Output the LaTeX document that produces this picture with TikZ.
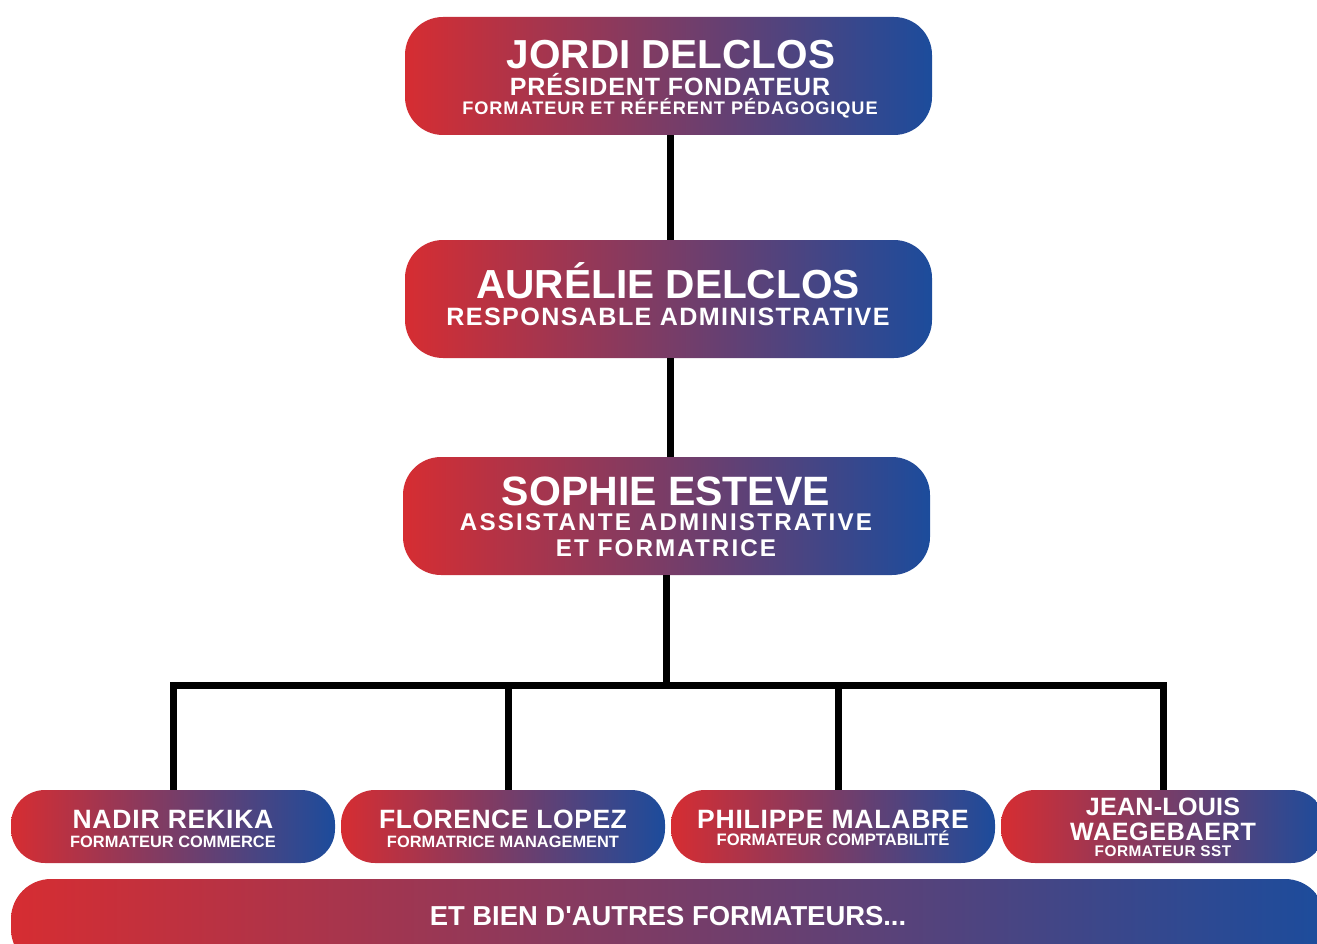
\documentclass[tikz,border=0pt]{standalone}
\usepackage{fontspec}
\setmainfont{Liberation Sans}
\usepackage{tikz}
\usetikzlibrary{positioning}
\definecolor{orgred}{RGB}{214,45,50}
\definecolor{orgblue}{RGB}{28,76,156}

% font size + letter spacing for one line of text
\newcommand{\linefont}[2]{\bfseries\fontsize{#1}{#1}\selectfont\addfontfeature{LetterSpace=#2}}

\tikzset{
  bigbox/.style={rounded corners=38pt, left color=orgred, right color=orgblue,
    minimum width=527pt, minimum height=118pt, inner sep=0pt},
  smallbox/.style={rounded corners=34pt, left color=orgred, right color=orgblue,
    minimum width=324pt, minimum height=73pt, inner sep=0pt},
  txt/.style={anchor=base, text=white, inner sep=0pt, font=\bfseries},
  link/.style={line width=7pt, black}
}

\begin{document}
\begin{tikzpicture}[x=1pt, y=-1pt]
    \useasboundingbox (0,0) rectangle (1317,944);
    \clip (0,0) rectangle (1317,944);

    % main boxes
    \node[bigbox] (jordi) at (668.5,76) {};
    \node[bigbox] (aurelie) at (668.5,299) {};
    \node[bigbox] (sophie) at (666.5,516) {};

    % trainers
    \node[smallbox] (nadir) at (173,826.5) {};
    \node[smallbox] (florence) at (503,826.5) {};
    \node[smallbox] (philippe) at (833,826.5) {};
    \node[smallbox] (jeanlouis) at (1163,826.5) {};

    % bottom bar
    \node[smallbox, rounded corners=40pt, minimum width=1314pt, minimum height=90pt] (others) at (668,924) {};

    % connectors
    \coordinate (fork) at (668,685);
    \draw[link] ([xshift=1.5pt]jordi.south) -- ([xshift=1.5pt]jordi.south |- aurelie.north);
    \draw[link] ([xshift=1.5pt]aurelie.south) -- ([xshift=1.5pt]aurelie.south |- sophie.north);
    \draw[link] (sophie.south) -- (sophie.south |- fork);
    \draw[link, line join=miter] (nadir.north) |- (jeanlouis.north |- fork) -- (jeanlouis.north);
    \draw[link] ([xshift=5pt]florence.north) -- ([xshift=5pt]florence.north |- fork);
    \draw[link] ([xshift=5pt]philippe.north) -- ([xshift=5pt]philippe.north |- fork);

    % texts
    \node[txt, font=\linefont{40.5}{0}] (t1a) at (671,68.5) {JORDI DELCLOS};
    \node[txt, font=\linefont{25}{3.6}] (t1b) at (670,95.5) {PRÉSIDENT FONDATEUR};
    \node[txt, font=\linefont{18.2}{5}] (t1c) at (670,115) {FORMATEUR ET RÉFÉRENT PÉDAGOGIQUE};

    \node[txt, font=\linefont{40.6}{0}] (t2a) at (668,298) {AURÉLIE DELCLOS};
    \node[txt, font=\linefont{25.1}{5.6}] (t2b) at (668,325) {RESPONSABLE ADMINISTRATIVE};

    \node[txt, font=\linefont{41}{0}] (t3a) at (666,505) {SOPHIE ESTEVE};
    \node[txt, font=\linefont{24.2}{9}] (t3b) at (666,530) {ASSISTANTE ADMINISTRATIVE};
    \node[txt, font=\linefont{24.2}{8.6}] (t3c) at (666,556) {ET FORMATRICE};

    \node[txt, font=\linefont{26.5}{3}] (t4a) at (173,828) {NADIR REKIKA};
    \node[txt, font=\linefont{16.4}{0}] (t4b) at (173,847) {FORMATEUR COMMERCE};

    \node[txt, font=\linefont{26.5}{2}] (t5a) at (503,828) {FLORENCE LOPEZ};
    \node[txt, font=\linefont{16.4}{0}] (t5b) at (503,847) {FORMATRICE MANAGEMENT};

    \node[txt, font=\linefont{26.5}{3}] (t6a) at (833,828) {PHILIPPE MALABRE};
    \node[txt, font=\linefont{16.6}{0}] (t6b) at (833,845) {FORMATEUR COMPTABILITÉ};

    \node[txt, font=\linefont{25.1}{1}] (t7a) at (1163,815) {JEAN-LOUIS};
    \node[txt, font=\linefont{25.1}{2.6}] (t7b) at (1163,840) {WAEGEBAERT};
    \node[txt, font=\linefont{15.4}{3}] (t7c) at (1163,856) {FORMATEUR SST};

    \node[txt, font=\linefont{27.4}{0}] (t8) at (668,925) {ET BIEN D\textquotesingle AUTRES FORMATEURS...};
\end{tikzpicture}
\end{document}
